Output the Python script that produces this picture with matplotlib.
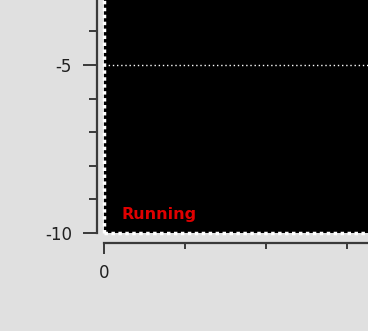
import matplotlib
matplotlib.use("Agg")
import matplotlib.pyplot as plt
from matplotlib.ticker import FixedLocator

# visible part of the chart (cropped LabVIEW-style graph)
y_major_ticks = [-10, -5]
y_minor_ticks = [-9, -8, -7, -6, -4]
x_major_ticks = [0]
x_minor_ticks = [1, 2, 3]
grid_levels = [-5]
status_text = "Running"

y_min, y_max = -10, -3.07
x_min, x_max = 0, 3.26

plt.rcParams['axes.unicode_minus'] = False
plt.rcParams['font.family'] = 'DejaVu Sans'

fig = plt.figure(figsize=(3.68, 3.31), dpi=100)
fig.patch.set_facecolor('#e0e0e0')
ax = fig.add_axes([104 / 368, 98 / 331, 264 / 368, 233 / 331])
ax.set_facecolor('black')
ax.set_xlim(x_min, x_max)
ax.set_ylim(y_min, y_max)

# axes: only left and bottom, pushed outward
for side in ['top', 'right']:
    ax.spines[side].set_visible(False)
ax.spines['left'].set_position(('outward', 5))
ax.spines['bottom'].set_position(('outward', 7))
for side in ['left', 'bottom']:
    ax.spines[side].set_color('#3a3a3a')
    ax.spines[side].set_linewidth(1.6)

ax.yaxis.set_major_locator(FixedLocator(y_major_ticks))
ax.yaxis.set_minor_locator(FixedLocator(y_minor_ticks))
ax.xaxis.set_major_locator(FixedLocator(x_major_ticks))
ax.xaxis.set_minor_locator(FixedLocator(x_minor_ticks))
ax.set_yticklabels([str(v) for v in y_major_ticks])
ax.set_xticklabels([str(v) for v in x_major_ticks])

ax.tick_params(axis='y', which='major', length=10, width=1.4, color='#3a3a3a',
               pad=8, labelsize=12, labelcolor='#202020')
ax.tick_params(axis='y', which='minor', length=6, width=1.4, color='#3a3a3a')
ax.tick_params(axis='x', which='major', length=8, width=1.4, color='#3a3a3a',
               pad=7, labelsize=12, labelcolor='#202020')
ax.tick_params(axis='x', which='minor', length=4, width=1.4, color='#3a3a3a')

# dotted white grid and frame
for g in grid_levels:
    ax.axhline(g, color='white', linestyle=(0, (1, 2)), linewidth=1)
ax.axvline(x_min, color='white', linestyle=(0, (1, 1)), linewidth=2.5, clip_on=False)
ax.axhline(y_min, color='white', linestyle=(0, (1, 1)), linewidth=2.5, clip_on=False)

ax.text(0.22, -9.67, status_text, color='#e00000', fontsize=11.5, fontweight='bold',
        ha='left', va='bottom')

fig.savefig('out.png', dpi=100, facecolor=fig.get_facecolor())
plt.close()
